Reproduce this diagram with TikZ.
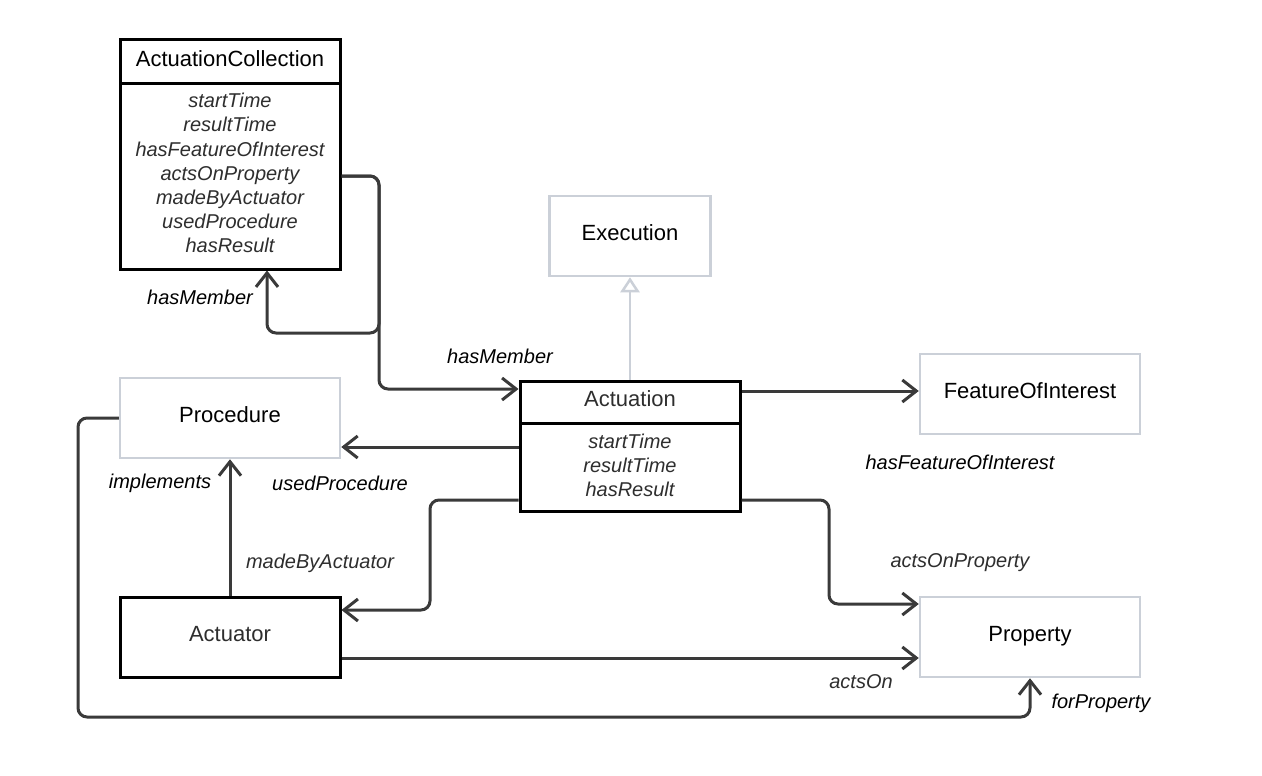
\documentclass[tikz,border=0pt]{standalone}
\usepackage{fontspec}
\setmainfont{Liberation Sans}
\usetikzlibrary{arrows.meta}
\definecolor{ink}{HTML}{2E2E2E}
\definecolor{wire}{HTML}{3A3A3A}
\definecolor{pale}{HTML}{CBD0D8}
\begin{document}
\begin{tikzpicture}[x=1pt,y=-1pt,
  cls/.style={rectangle, draw=black, line width=3pt, fill=white,
    minimum width=220pt, minimum height=80pt, inner sep=0pt,
    font=\fontsize{22}{26}\selectfont, text=black},
  clstitle/.style={text height=16pt, text depth=6.2pt},
  ext/.style={cls, clstitle, draw=pale, line width=2.5pt},
  head/.style={cls, clstitle, minimum height=44pt},
  attrs/.style={cls, anchor=north, yshift=3pt, align=center,
    font=\fontsize{20}{24.2}\selectfont\itshape, text=ink},
  link/.style={draw=wire, line width=3pt, rounded corners=9pt,
    -{Straight Barb[length=14pt,width=22pt]}},
  role/.style={font=\fontsize{20}{24}\selectfont\itshape, text=black},
  isa/.style={draw=pale, line width=2.5pt,
    -{Triangle[open, length=15pt, width=19pt, fill=white]}},
]
\useasboundingbox[fill=white] (0,0) rectangle (1262,776);

% classes
\node[head] (achead) at (230,62) {ActuationCollection};
\node[attrs, minimum height=185pt, text depth=7pt] (acbody) at (achead.south)
  {startTime\\resultTime\\hasFeatureOfInterest\\actsOnProperty\\madeByActuator\\usedProcedure\\hasResult};
\node[ext, minimum width=161pt] (exec) at (630,236) {Execution};
\node[ext] (foi) at (1030,394) {FeatureOfInterest};
\node[ext] (proc) at (230,418) {Procedure};
\node[head, text=ink, minimum height=42pt] (acthead) at (630,402) {Actuation};
\node[attrs, minimum height=88pt, text depth=3pt] (actbody) at (acthead.south)
  {startTime\\resultTime\\hasResult};
\node[cls, clstitle, text=ink] (actuator) at (230,637) {Actuator};
\node[ext] (prop) at (1030,637) {Property};

% relations
\draw[link] (acbody.east |- 0,176) -| (379,333) -| (acbody.south -| 267,0);
\draw[link] (acbody.east |- 0,176) -| (379,389) -- (acthead.west |- 0,389);
\draw[isa] (acthead.north) -- (exec.south);
\draw[link] (acthead.east |- 0,391) -- (foi.west |- 0,391);
\draw[link] (actbody.west |- 0,447) -- (proc.east |- 0,447);
\draw[link] (actbody.west |- 0,500) -| (430,610) -- (actuator.east |- 0,610);
\draw[link] (actbody.east |- 0,500) -| (829,604) -- (prop.west |- 0,604);
\draw[link] (actuator.north) -- (proc.south);
\draw[link] (actuator.east |- 0,658) -- (prop.west |- 0,658);
\draw[link] (proc.west) -| (78,717) -| (prop.south);

% relation names
\node[role] (l1) at (200,297) {hasMember};
\node[role] (l2) at (500,356) {hasMember};
\node[role] (l3) at (960,462) {hasFeatureOfInterest};
\node[role] (l4) at (340,483) {usedProcedure};
\node[role] (l5) at (160,483) {implements};
\node[role, text=ink] (l6) at (320,563) {madeByActuator};
\node[role, text=ink] (l7) at (960,563) {actsOnProperty};
\node[role, text=ink] (l8) at (861,682) {actsOn};
\node[role] (l9) at (1101,703) {forProperty};
\end{tikzpicture}
\end{document}
